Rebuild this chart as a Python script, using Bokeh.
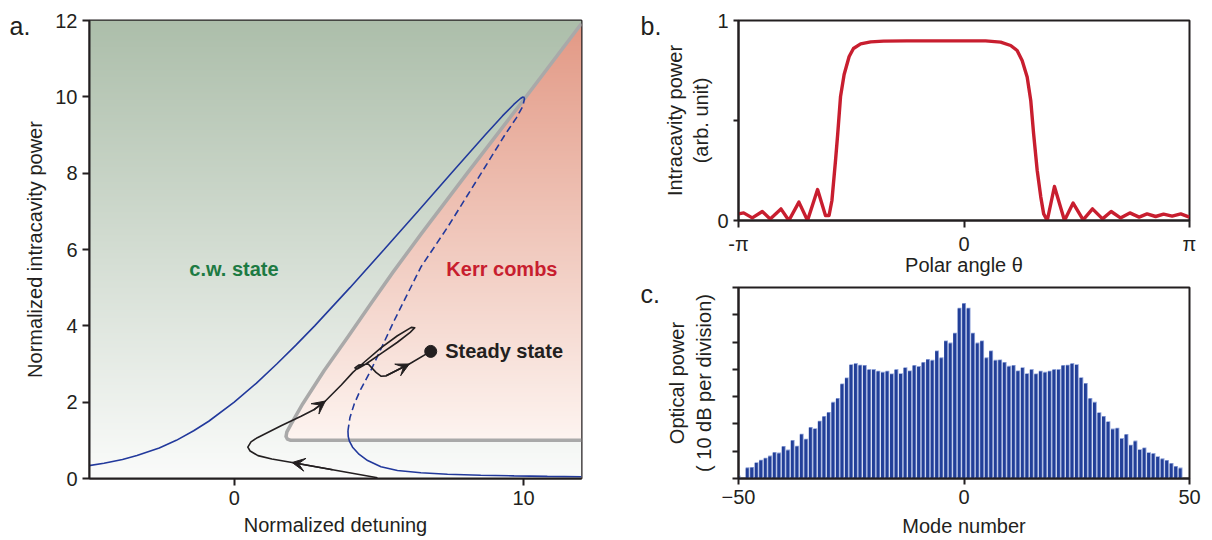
import numpy as np
from bokeh.plotting import figure
from bokeh.layouts import row, column
from bokeh.models import FixedTicker, Label, Arrow, VeeHead
from bokeh.embed import file_html
from bokeh.resources import INLINE

FONT = "Liberation Sans"
INK = "#231f20"
BLUE = "#22399c"
RED = "#c81e2f"
GREEN = "#1d7a43"

# ---------------- (a) bistability diagram ----------------
# stable upper (c.w.) branch
upper_detuning = [-5.08, -4.50, -3.86, -3.36, -2.59, -2.00, -1.40, -0.88, 0.00, 0.77, 1.47,
                  2.14, 2.78, 4.00, 5.18, 6.35, 7.50, 8.67, 9.27, 9.66, 9.88, 9.96, 10.00]
upper_power = [0.33, 0.40, 0.50, 0.60, 0.80, 1.00, 1.25, 1.50, 2.00, 2.50, 3.00,
               3.50, 4.00, 5.00, 6.00, 7.00, 8.00, 9.00, 9.50, 9.80, 9.95, 9.99, 10.00]
# unstable middle branch
middle_detuning = [10.00, 10.03, 9.97, 9.75, 9.35, 8.52, 7.37, 6.45, 5.53, 4.72, 4.38, 4.15, 4.00, 3.93]
middle_power = [10.00, 9.95, 9.75, 9.45, 9.00, 7.98, 6.58, 5.54, 4.14, 2.83, 2.35, 1.96, 1.60, 1.25]
# stable lower branch
lower_detuning = [3.93, 3.94, 3.98, 4.09, 4.32, 4.61, 5.07, 5.64, 6.45, 7.37, 8.52, 9.67, 10.82, 12.00]
lower_power = [1.25, 1.10, 0.98, 0.82, 0.63, 0.47, 0.31, 0.21, 0.15, 0.11, 0.087, 0.07, 0.055, 0.045]
# modulational-instability threshold
mi_detuning = [12.00, 10.07, 8.00, 6.50, 5.50, 4.72, 3.92, 3.11, 2.37, 1.97, 1.82, 1.79, 1.84, 1.95, 2.30, 12.00]
mi_power = [11.92, 9.99, 7.95, 6.45, 5.42, 4.58, 3.70, 2.83, 1.96, 1.43, 1.22, 1.10, 1.03, 1.00, 1.00, 1.00]
# simulated trajectory towards the comb state
path_detuning = [4.95, 3.40, 2.00, 1.30, 0.82, 0.55, 0.47, 0.58, 0.80, 1.62, 2.31, 2.75, 3.15,
                 3.70, 4.10, 4.45, 5.07, 5.64, 6.12, 6.24, 6.08, 5.64, 5.07, 4.55, 4.25, 4.17,
                 4.30, 4.63, 4.90, 5.07, 5.25, 6.05, 6.79]
path_power = [0.02, 0.23, 0.42, 0.51, 0.60, 0.72, 0.82, 0.96, 1.07, 1.38, 1.63, 1.80, 2.03,
              2.45, 2.78, 3.02, 3.42, 3.74, 3.96, 3.95, 3.83, 3.57, 3.27, 3.00, 2.87, 2.90,
              2.97, 3.00, 2.78, 2.68, 2.69, 3.00, 3.33]
path_arrow_tips = [2, 12, 31]
steady_detuning = [6.79]
steady_power = [3.33]
a_xticks = [0, 10]
a_yticks = [0, 2, 4, 6, 8, 10, 12]

# ---------------- (b) intracavity waveform ----------------
theta = [-3.14, -3.07, -2.95, -2.81, -2.70, -2.55, -2.44, -2.30, -2.18, -2.04, -1.93, -1.88,
         -1.84, -1.79, -1.76, -1.72, -1.67, -1.60, -1.54, -1.44, -1.30, -1.12, -0.80, -0.40,
         0.00, 0.30, 0.51, 0.65, 0.74, 0.81, 0.88, 0.93, 0.97, 1.02, 1.07, 1.11, 1.16, 1.26,
         1.40, 1.52, 1.66, 1.79, 1.93, 2.05, 2.18, 2.31, 2.44, 2.55, 2.67, 2.78, 2.90, 3.02, 3.14]
intracavity = [0.033, 0.038, 0.013, 0.045, 0.008, 0.058, 0.0, 0.092, 0.0, 0.155, 0.025, 0.025,
               0.10, 0.30, 0.43, 0.62, 0.73, 0.82, 0.86, 0.883, 0.893, 0.897, 0.898, 0.898,
               0.898, 0.898, 0.892, 0.875, 0.85, 0.80, 0.717, 0.60, 0.433, 0.25, 0.117, 0.033, 0.0, 0.17,
               0.0, 0.087, 0.003, 0.058, 0.008, 0.045, 0.013, 0.038, 0.017, 0.033, 0.02, 0.032, 0.022, 0.033, 0.017]
b_xticks = [-np.pi, 0.0, np.pi]
b_xlabels = ["-π", "0", "π"]
b_yticks = [0.0, 0.5, 1.0]
b_ylabels = ["0", "", "1"]

# ---------------- (c) comb spectrum ----------------
modes = list(range(-50, 49))
spectrum_div = [0.08, 0.0,
                0.38, 0.39, 0.57, 0.66, 0.73, 0.81, 0.94, 0.92, 1.16, 1.03,
                1.38, 1.17, 1.61, 1.43, 1.86, 1.81, 2.09, 2.26, 2.41, 2.78,
                2.92, 3.45, 3.67, 4.16, 4.20, 4.14, 4.13, 3.98, 3.98, 3.92,
                3.88, 3.92, 3.82, 3.98, 3.83, 4.05, 3.93, 4.13, 4.09, 4.24,
                4.35, 4.32, 4.66, 4.41, 5.03, 4.95, 5.31, 6.23,
                6.40,
                6.23, 5.31, 4.95, 5.03, 4.41, 4.66, 4.32, 4.33, 4.24, 4.10,
                4.13, 3.93, 4.05, 3.83, 3.98, 3.82, 3.92, 3.88, 3.92, 3.98,
                3.98, 4.13, 4.14, 4.20, 4.16, 3.68, 3.47, 2.92, 2.78, 2.40,
                2.26, 2.07, 1.80, 1.83, 1.45, 1.60, 1.21, 1.36, 1.04, 1.11,
                0.93, 0.90, 0.79, 0.71, 0.65, 0.54, 0.43, 0.37]
c_xticks = [-50, 0, 50]
c_yticks = list(range(0, 8))


def style(p, tick_out=7):
    p.grid.visible = False
    p.outline_line_color = INK
    p.outline_line_width = 2
    p.background_fill_color = "white"
    p.border_fill_color = "white"
    for ax in p.axis:
        ax.axis_line_color = INK
        ax.axis_line_width = 2
        ax.major_tick_line_color = INK
        ax.major_tick_line_width = 2
        ax.major_tick_out = tick_out
        ax.major_tick_in = 0
        ax.minor_tick_out = 0
        ax.minor_tick_in = 0
        ax.major_label_text_font = FONT
        ax.major_label_text_font_size = "20px"
        ax.major_label_text_color = INK
        ax.major_label_standoff = 5
        ax.axis_label_text_font = FONT
        ax.axis_label_text_font_size = "20px"
        ax.axis_label_text_font_style = "normal"
        ax.axis_label_text_color = INK
        ax.axis_label_standoff = 8


def panel_tag(p, text, cx, cy):
    # panel letter, placed in canvas pixels inside the left border
    p.add_layout(Label(x=cx, y=cy, x_units="canvas", y_units="canvas", text=text,
                       text_font=FONT, text_font_size="25px", text_color=INK,
                       text_baseline="alphabetic"), "left")


# ---- panel a
pa = figure(width=610, height=540, x_range=(-5, 12), y_range=(0, 12),
            output_backend="svg", toolbar_location=None,
            min_border_left=88, min_border_right=29, min_border_top=20, min_border_bottom=62)
style(pa)
pa.xaxis.ticker = FixedTicker(ticks=a_xticks)
pa.yaxis.ticker = FixedTicker(ticks=a_yticks)
pa.xaxis.axis_label = "Normalized detuning"
pa.yaxis.axis_label = "Normalized intracavity power"
pa.xaxis.axis_label_standoff = 6
pa.yaxis.axis_label_standoff = 6

# two-tone background: c.w. region (green) and comb region (red) split at the MI threshold
W, H = 493, 458
gx = -5 + (np.arange(W) + 0.5) * 17.0 / W
gy = (np.arange(H) + 0.5) * 12.0 / H
GX, GY = np.meshgrid(gx, gy)
k = mi_power.index(1.0)
edge_x = np.array(mi_detuning[:k + 1][::-1])
edge_y = np.array(mi_power[:k + 1][::-1])
xb = np.interp(GY, edge_y, edge_x)
kerr = (GY >= 1.0) & (GX >= xb)
green_top, green_bot = np.array([172, 190, 170]), np.array([250, 251, 250])
red_top, red_bot = np.array([226, 152, 132]), np.array([253, 244, 240])
tg = (GY / 12.0)[..., None]
tr = np.clip((GY - 1.0) / 11.0, 0, 1)[..., None]
rgb = np.where(kerr[..., None], red_bot + (red_top - red_bot) * tr, green_bot + (green_top - green_bot) * tg)
img = np.empty((H, W), dtype=np.uint32)
view = img.view(dtype=np.uint8).reshape((H, W, 4))
view[..., :3] = np.round(rgb).astype(np.uint8)
view[..., 3] = 255
pa.image_rgba(image=[img], x=-5, y=0, dw=17, dh=12)

pa.line(mi_detuning, mi_power, line_color="#a9a9a9", line_width=3.5, line_join="round")
pa.line(upper_detuning, upper_power, line_color=BLUE, line_width=1.6)
pa.line(middle_detuning, middle_power, line_color=BLUE, line_width=1.6, line_dash="7 4")
pa.line(lower_detuning, lower_power, line_color=BLUE, line_width=1.6)
pa.line(path_detuning, path_power, line_color=INK, line_width=1.6, line_join="round")
for i in path_arrow_tips:
    pa.add_layout(Arrow(end=VeeHead(size=13, fill_color=INK, line_color=INK, line_width=1),
                        x_start=path_detuning[i - 1], y_start=path_power[i - 1],
                        x_end=path_detuning[i], y_end=path_power[i],
                        line_color=INK, line_width=1.6))
pa.scatter(steady_detuning, steady_power, size=12, color=INK)

pa.add_layout(Label(x=-1.55, y=5.5, text="c.w. state", text_font=FONT, text_font_size="20px",
                    text_font_style="bold", text_color=GREEN, text_baseline="middle"))
pa.add_layout(Label(x=7.33, y=5.5, text="Kerr combs", text_font=FONT, text_font_size="20px",
                    text_font_style="bold", text_color=RED, text_baseline="middle"))
pa.add_layout(Label(x=steady_detuning[0] + 0.5, y=steady_power[0], text="Steady state",
                    text_font=FONT, text_font_size="20px", text_font_style="bold",
                    text_color=INK, text_baseline="middle"))
panel_tag(pa, "a.", 9, 25)

# ---- panel b
pb = figure(width=602, height=278, x_range=(-np.pi, np.pi), y_range=(0, 1),
            output_backend="svg", toolbar_location=None,
            min_border_left=128, min_border_right=23, min_border_top=20, min_border_bottom=57)
style(pb)
pb.yaxis.major_tick_out = 5
pb.xaxis.ticker = FixedTicker(ticks=b_xticks)
pb.xaxis.major_label_overrides = dict(zip(b_xticks, b_xlabels))
pb.yaxis.ticker = FixedTicker(ticks=b_yticks)
pb.yaxis.major_label_overrides = dict(zip(b_yticks, b_ylabels))
pb.xaxis.axis_label = "Polar angle θ"
pb.xaxis.axis_label_standoff = -4
pb.yaxis.axis_label = "Intracavity power\n(arb. unit)"
pb.yaxis.axis_label_standoff = 2
pb.line(theta, intracavity, line_color=RED, line_width=3.4, line_join="round")
panel_tag(pb, "b.", 30, 25)

# ---- panel c
pc = figure(width=602, height=262, x_range=(-50, 50), y_range=(0, 7),
            output_backend="svg", toolbar_location=None,
            min_border_left=127, min_border_right=23, min_border_top=9, min_border_bottom=62)
style(pc, tick_out=6)
pc.xaxis.ticker = FixedTicker(ticks=c_xticks)
pc.yaxis.ticker = FixedTicker(ticks=c_yticks)
pc.yaxis.major_label_overrides = {t: "" for t in c_yticks}
pc.xaxis.axis_label = "Mode number"
pc.yaxis.axis_label = "Optical power\n( 10 dB per division)"
pc.yaxis.axis_label_standoff = 18
modes_arr = np.array(modes, dtype=float)
heights = np.array(spectrum_div)
pc.vbar(x=modes_arr + 0.025, top=heights + 0.03, width=0.85, fill_color="#8fa2d8", line_color=None)
pc.vbar(x=modes_arr - 0.075, top=heights, width=0.65, fill_color="#223f98", line_color=None)
panel_tag(pc, "c.", 30, 15)

layout = row(pa, column(pb, pc))
open("out.html", "w").write(file_html(layout, INLINE))
